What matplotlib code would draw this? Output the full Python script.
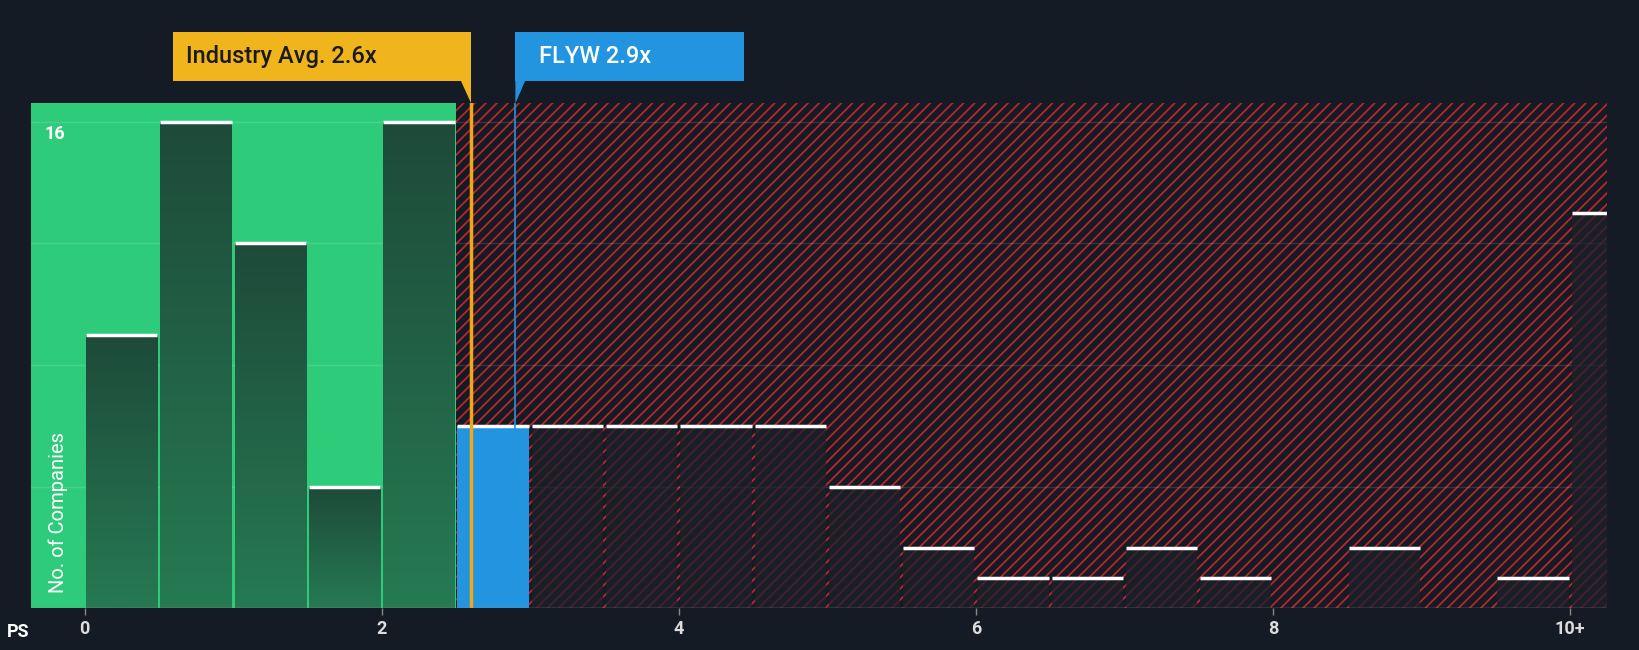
import matplotlib
matplotlib.use("Agg")
import matplotlib.pyplot as plt
from matplotlib.patches import Rectangle, Polygon
from matplotlib.colors import LinearSegmentedColormap
import numpy as np

plt.rcParams['font.family'] = ['Roboto', 'DejaVu Sans']

bin_left = [0,0.5,1,1.5,2,2.5,3,3.5,4,4.5,5,5.5,6,6.5,7,7.5,8,8.5,9,9.5,10]
counts   = [9,16,12,4,16,6,6,6,6,6,4,2,1,1,2,1,0,2,0,1,13]
tick_pos = [0,2,4,6,8,10]
tick_lab = ["0","2","4","6","8","10+"]
industry_avg = 2.6
company_val = 2.9
company = "FLYW"
width = 0.5

BG = "#151b24"
fig = plt.figure(figsize=(16.4,6.5), dpi=100, facecolor=BG)
ax = fig.add_axes([0.019,0.064,0.961,0.777], facecolor=BG)
xmin, xmax, ymax = -0.36, 10.25, 16.6
ax.set_xlim(xmin, xmax); ax.set_ylim(0, ymax)

plt.rcParams['hatch.linewidth'] = 1.3
ax.add_patch(Rectangle((xmin,0), 2.5-xmin, ymax, facecolor="#2ecc7a", edgecolor="none", zorder=0))
ax.add_patch(Rectangle((2.5,0), xmax-2.5, ymax, facecolor=BG, edgecolor="#b8262e", hatch="///", linewidth=0, zorder=0))

for g in [4,8,12,16]:
    ax.axhline(g, color="white", alpha=0.12, lw=1, zorder=1)

grad = np.linspace(0,1,100).reshape(-1,1)
gcm = LinearSegmentedColormap.from_list("g", ["#1e4a3a", "#267a52"])
for l, c in zip(bin_left, counts):
    if c == 0:
        continue
    x0 = l + 0.01; w = width - 0.02
    if l < 2.5:
        r = Rectangle((x0,0), w, c, facecolor="none", edgecolor="none", zorder=2)
        ax.add_patch(r)
        im = ax.imshow(grad, extent=(x0,x0+w,0,c), aspect="auto", cmap=gcm, origin="upper", zorder=2)
        im.set_clip_path(r)
    elif l == 2.5:
        ax.add_patch(Rectangle((x0,0), w, c, facecolor="#2394df", edgecolor="none", zorder=2))
    else:
        ax.add_patch(Rectangle((x0,0), w, c, facecolor="#1c2029", alpha=0.75, edgecolor="none", zorder=2))
    ax.plot([x0, x0+w], [c, c], color="white", lw=2.5, zorder=3, solid_capstyle="butt")

ax.axvline(industry_avg, color="#f0a71c", lw=2.5, zorder=4)
ax.axvline(company_val, color="#2394df", lw=1.2, zorder=4)

ax.set_xticks(tick_pos); ax.set_xticklabels(tick_lab)
ax.tick_params(axis="x", colors="#dddddd", labelsize=13, length=5, width=1, color="#888888")
for t in ax.get_xticklabels():
    t.set_fontweight("bold")
ax.set_yticks([])
for s in ax.spines.values():
    s.set_visible(False)
ax.axhline(0, color="#888888", lw=1, zorder=5)
ax.text(-0.27, 15.6, "16", color="white", fontsize=13, fontweight="bold", va="center")
ax.text(-0.18, 0.5, "No. of Companies", color="white", fontsize=14.5, rotation=90, va="bottom", ha="center")
fig.text(0.004, 0.02, "PS", color="white", fontsize=13, fontweight="bold")

def fx(v):
    return fig.transFigure.inverted().transform(ax.transData.transform((v,0)))[0]
xa, xc = fx(industry_avg), fx(company_val)
y0, y1 = 1-77/621, 1-31/621
fig.patches.append(Rectangle((165/1568, y0), xa-165/1568, y1-y0, transform=fig.transFigure, facecolor="#f0b41c", edgecolor="none"))
fig.patches.append(Polygon([(xa-0.006,y0),(xa,y0),(xa,y0-0.035)], closed=True, transform=fig.transFigure, facecolor="#f0b41c"))
fig.text(178/1568, (y0+y1)/2, "Industry Avg. 2.6x", color="#1a1a1a", fontsize=17, va="center", fontweight="medium")
fig.patches.append(Rectangle((xc, y0), 711/1568-xc, y1-y0, transform=fig.transFigure, facecolor="#2394df", edgecolor="none"))
fig.patches.append(Polygon([(xc,y0),(xc+0.006,y0),(xc,y0-0.035)], closed=True, transform=fig.transFigure, facecolor="#2394df"))
fig.text(515/1568, (y0+y1)/2, f"{company} 2.9x", color="white", fontsize=17, va="center", fontweight="medium")

fig.savefig("out.png", facecolor=BG)
